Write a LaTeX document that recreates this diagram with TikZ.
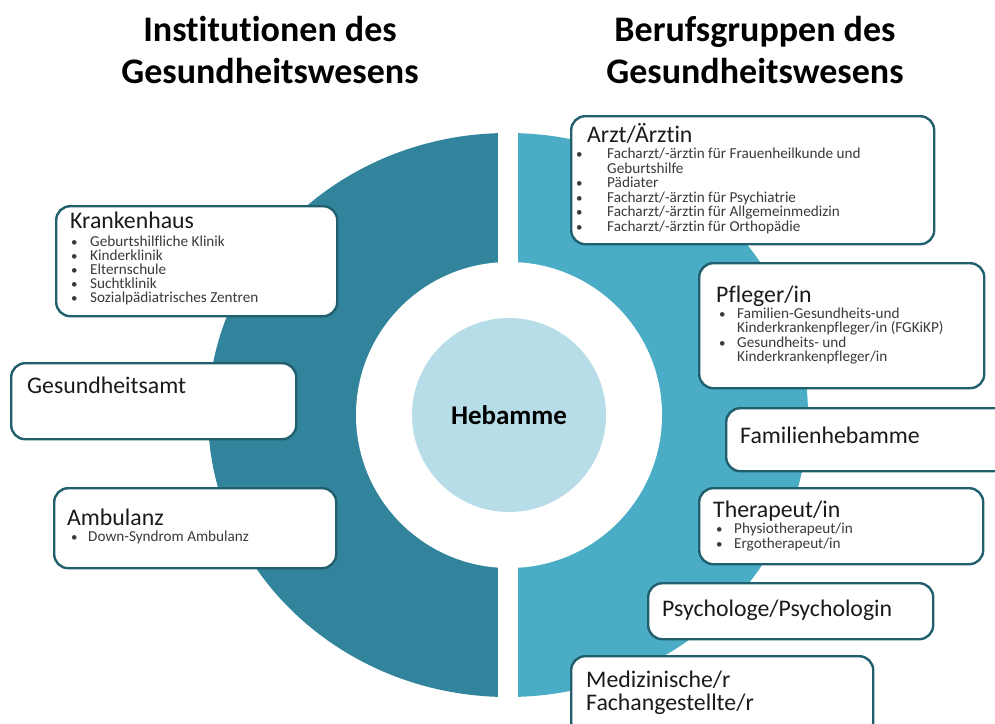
\documentclass[tikz,border=0pt]{standalone}
\usepackage{fontspec}
\setmainfont[Ligatures={NoCommon}]{Carlito}
\usepackage{tikz}
\usetikzlibrary{positioning}
\definecolor{hb-dark}{HTML}{31849B}
\definecolor{hb-light}{HTML}{4BACC6}
\definecolor{hb-pale}{HTML}{B7DEE8}
\definecolor{hb-line}{HTML}{215F6E}
\definecolor{hb-text}{HTML}{1A1A1A}
\definecolor{hb-item}{HTML}{3A3A3A}

\tikzset{
  box/.style={draw=hb-line, line width=2.4pt, fill=white, rounded corners=14pt, anchor=north west, inner sep=0pt},
  head/.style={anchor=base west, inner sep=0pt, text=hb-text, font=\fontsize{23.8}{25}\selectfont},
  item/.style={anchor=base west, inner sep=0pt, text=hb-item, font=\fontsize{15.2}{15}\selectfont},
  dot/.style={anchor=base west, inner sep=0pt, text=hb-item, font=\fontsize{13}{14}\selectfont},
  title/.style={align=center, font=\fontsize{36}{42}\selectfont\bfseries}
}

\begin{document}
\begin{tikzpicture}[x=1pt, y=-1pt]
\useasboundingbox (0,0) rectangle (995,723);

% split ring: institutions left, professions right
\begin{scope}
\clip (0,0) rectangle (508,723);
\fill[hb-dark] (508,415) ellipse [x radius=300pt, y radius=282pt];
\end{scope}
\begin{scope}
\clip (508,0) rectangle (995,723);
\fill[hb-light] (508,415) ellipse [x radius=300pt, y radius=282pt];
\end{scope}
\fill[white] (498,100) rectangle (518,710);
\fill[white] (509,415) circle [radius=153pt];
\node[circle, fill=hb-pale, minimum size=194pt, inner sep=0pt,
      font=\fontsize{27}{29}\selectfont\bfseries] (hebamme) at (509,415) {Hebamme};

% titles
\node[title] (inst-title) at (270,50) {Institutionen des\\Gesundheitswesens};
\node[title] (beruf-title) at (755,50) {Berufsgruppen des\\Gesundheitswesens};

% left side
\node[box, minimum width=281pt, minimum height=110pt] (krankenhaus) at (55,205) {};
\node[head] (kh-head) at (70,228) {Krankenhaus};
\foreach \t [count=\i from 0] in {Geburtshilfliche Klinik, Kinderklinik, Elternschule, Suchtklinik, Sozialpädiatrisches Zentren} {
  \node[dot] (kh-dot-\i) at (71,246+14.2*\i) {\textbullet};
  \node[item] (kh-\i) at (90,246+14.2*\i) {\t};
}

\node[box, minimum width=285pt, minimum height=76pt] (amt) at (10,362) {};
\node[head] (amt-head) at (27,393) {Gesundheitsamt};

\node[box, minimum width=282pt, minimum height=80pt] (ambulanz) at (53,487) {};
\node[head] (amb-head) at (67,525) {Ambulanz};
\node[dot] (amb-dot) at (71,541) {\textbullet};
\node[item] (amb-0) at (88,541) {Down-Syndrom Ambulanz};

% right side
\node[box, minimum width=363pt, minimum height=128pt] (arzt) at (570,115) {};
\node[head] (arzt-head) at (587,142) {Arzt/Ärztin};
\foreach \y/\b/\t in {158.5/1/{Facharzt/-ärztin für Frauenheilkunde und}, 173/0/{Geburtshilfe}, 187.5/1/{Pädiater},
    202/1/{Facharzt/-ärztin für Psychiatrie}, 216.5/1/{Facharzt/-ärztin für Allgemeinmedizin}, 231/1/{Facharzt/-ärztin für Orthopädie}} {
  \ifnum\b=1 \node[dot] at (576,\y) {\textbullet};\fi
  \node[item] (arzt-\y) at (607,\y) {\t};
}

\node[box, minimum width=285pt, minimum height=125pt] (pfleger) at (698,262) {};
\node[head] (pf-head) at (716,302) {Pfleger/in};
\foreach \y/\b/\t in {318/1/{Familien-Gesundheits-und}, 332/0/{Kinderkrankenpfleger/in (FGKiKP)},
    347/1/{Gesundheits- und}, 361/0/{Kinderkrankenpfleger/in}} {
  \ifnum\b=1 \node[dot] at (719,\y) {\textbullet};\fi
  \node[item] (pf-\y) at (737,\y) {\t};
}

\node[box, minimum width=290pt, minimum height=63pt] (famheb) at (725,407) {};
\node[head] (fh-head) at (740,443) {Familienhebamme};

\node[box, minimum width=284pt, minimum height=76pt] (therapeut) at (698,487) {};
\node[head] (th-head) at (713,517) {Therapeut/in};
\foreach \y/\t in {533/{Physiotherapeut/in}, 548/{Ergotherapeut/in}} {
  \node[dot] at (716,\y) {\textbullet};
  \node[item] (th-\y) at (734,\y) {\t};
}

\node[box, minimum width=285pt, minimum height=56pt] (psych) at (647,582) {};
\node[head] (ps-head) at (662,616) {Psychologe/Psychologin};

\node[box, minimum width=302pt, minimum height=80pt] (mfa) at (570,655) {};
\node[head] (mfa-head) at (586,687) {Medizinische/r};
\node[head] (mfa-head2) at (586,710) {Fachangestellte/r};
\end{tikzpicture}
\end{document}
